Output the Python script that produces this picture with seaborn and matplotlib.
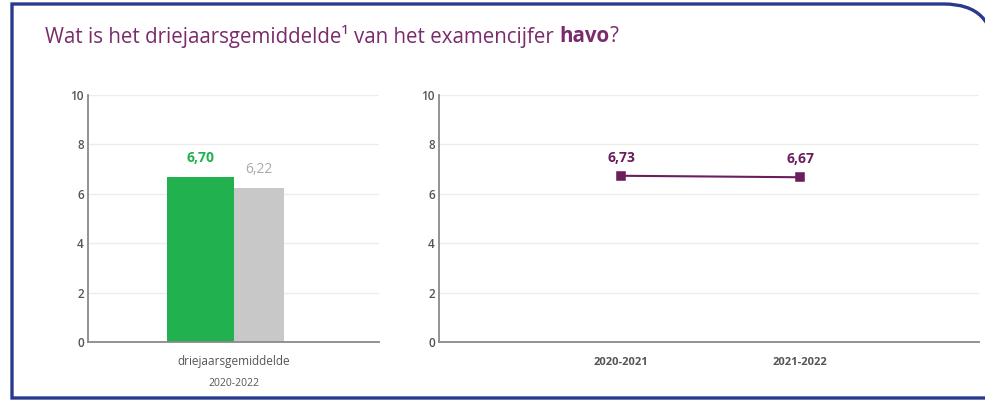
import matplotlib
matplotlib.use("Agg")
import matplotlib.pyplot as plt
import seaborn as sns
import pandas as pd
from matplotlib.path import Path
from matplotlib.patches import PathPatch
from matplotlib.transforms import IdentityTransform

# -------------------
# Data
# -------------------
bar_category = ["driejaarsgemiddelde"]
bar_period = "2020-2022"
bar_series = ["school", "landelijk"]
bar_values = [6.70, 6.22]
bar_labels = ["6,70", "6,22"]

line_years = ["2020-2021", "2021-2022"]
line_values = [6.73, 6.67]
line_labels = ["6,73", "6,67"]

y_ticks = [0, 2, 4, 6, 8, 10]

# -------------------
# Style
# -------------------
sns.set_theme(style="white")
plt.rcParams["font.family"] = ["Open Sans", "DejaVu Sans"]

green = "#21b14f"
grey = "#c8c8c8"
grey_text = "#a9a9a9"
purple = "#6b1d5e"
title_purple = "#7a2b6b"
navy = "#293a8e"
tick_col = "#555555"
spine_col = "#8a8a8a"
grid_col = "#ececec"

W, H = 985, 405
fig = plt.figure(figsize=(W / 100, H / 100), dpi=100)
fig.patch.set_facecolor("white")

ax1 = fig.add_axes([88 / W, 63 / H, 291 / W, 247 / H])
ax2 = fig.add_axes([439 / W, 63 / H, 540 / W, 247 / H])


def style_axis(ax):
    ax.set_ylim(0, 10)
    ax.set_yticks(y_ticks)
    ax.yaxis.grid(True, color=grid_col, linewidth=1)
    ax.xaxis.grid(False)
    ax.set_axisbelow(True)
    for s in ["top", "right"]:
        ax.spines[s].set_visible(False)
    for s in ["left", "bottom"]:
        ax.spines[s].set_color(spine_col)
        ax.spines[s].set_linewidth(1.3)
    ax.tick_params(axis="both", length=0, colors=tick_col)
    ax.tick_params(axis="y", labelsize=8.5, pad=3)
    for lab in ax.get_yticklabels():
        lab.set_fontweight("semibold")
    ax.set_xlabel("")
    ax.set_ylabel("")


# Left: bars
df_bar = pd.DataFrame({"cat": bar_category * len(bar_series),
                       "series": bar_series, "value": bar_values})
sns.barplot(data=df_bar, x="cat", y="value", hue="series",
            palette=[green, grey], width=0.46, dodge=True,
            saturation=1, legend=False, linewidth=0, edgecolor="none", ax=ax1)
# grey bar is a bit narrower than the green one
bars = [p for p in ax1.patches if p.get_height() > 0]
bars[1].set_width(bars[1].get_width() * 0.75)
ax1.set_xlim(-0.5, 0.5)
style_axis(ax1)
ax1.tick_params(axis="x", labelsize=8.5, pad=9)
ax1.text(0, -0.17, bar_period, transform=ax1.get_xaxis_transform(),
         ha="center", va="center", fontsize=7.5, color=tick_col)

for p, lab, col, wt in zip(bars, bar_labels, [green, grey_text], ["bold", "normal"]):
    ax1.annotate(lab, (p.get_x() + p.get_width() / 2, p.get_height()),
                 xytext=(0, 8), textcoords="offset points",
                 ha="center", va="bottom", fontsize=10, color=col, fontweight=wt)

# Right: line
sns.pointplot(x=line_years, y=line_values, color=purple, marker="s",
              markersize=6, linewidth=1.5, errorbar=None, ax=ax2)
ax2.set_xlim(-1.02, 2.0)
style_axis(ax2)
ax2.tick_params(axis="x", labelsize=8, pad=11)
for lab in ax2.get_xticklabels():
    lab.set_fontweight("bold")
for i, (v, lab) in enumerate(zip(line_values, line_labels)):
    ax2.annotate(lab, (i, v), xytext=(0, 8), textcoords="offset points",
                 ha="center", va="bottom", fontsize=10, color=purple,
                 fontweight="bold")

# Title (normal + bold part)
t1 = fig.text(45 / W, 1 - 36 / H, "Wat is het driejaarsgemiddelde\u00b9 van het examencijfer ",
              ha="left", va="center", fontsize=14.8, color=title_purple)
t2 = ax1.annotate("havo", xy=(1, 0), xycoords=t1, ha="left", va="bottom",
                  fontsize=14.8, color=title_purple, fontweight="bold",
                  annotation_clip=False)
ax1.annotate("?", xy=(1, 0), xycoords=t2, ha="left", va="bottom",
             fontsize=14.8, color=title_purple, annotation_clip=False)

# Frame with rounded top right corner
r = 50
verts = [(1005, H - 398), (12, H - 398), (12, H - 4), (994 - r, H - 4),
         (994, H - 4), (994, H - 4 - r), (994, -20)]
codes = [Path.MOVETO, Path.LINETO, Path.LINETO, Path.LINETO,
         Path.CURVE3, Path.CURVE3, Path.LINETO]
frame = PathPatch(Path(verts, codes), transform=IdentityTransform(),
                  facecolor="none", edgecolor=navy, linewidth=2.4)
fig.patches.append(frame)

fig.savefig("out.png", dpi=100)
